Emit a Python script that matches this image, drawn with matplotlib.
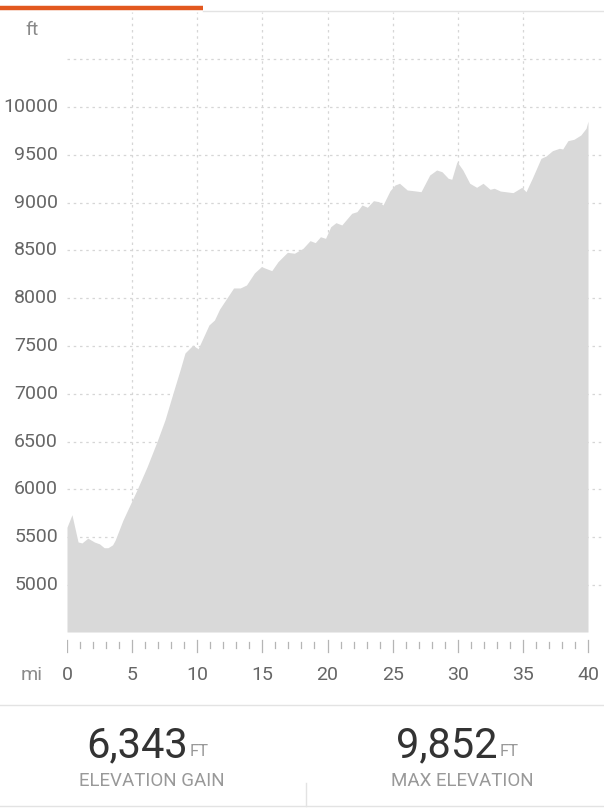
import matplotlib
matplotlib.use("Agg")
import matplotlib.pyplot as plt
from matplotlib.lines import Line2D

plt.rcParams['font.family'] = ['Roboto', 'DejaVu Sans']

# elevation profile (miles, feet)
miles = [0, 0.38, 0.85, 1.15, 1.6, 2.1, 2.5, 2.85, 3.15, 3.5, 3.7, 4.3,
         5.37, 6.14, 6.9, 7.52, 8.14, 8.68, 9.06, 9.67, 10.06, 10.9, 11.32,
         11.72, 12.79, 13.3, 13.78, 14.39, 14.92, 15.72, 16.2, 16.92, 17.46,
         18.12, 18.66, 19.06, 19.46, 19.85, 20.25, 20.65, 21.1, 21.86, 22.26,
         22.65, 23.06, 23.53, 23.94, 24.26, 24.8, 25.18, 25.53, 26.12, 26.64,
         27.18, 27.85, 28.38, 28.79, 29.27, 29.54, 29.94, 30.39, 30.92, 31.45,
         31.94, 32.48, 32.8, 33.27, 34.24, 34.92, 35.24, 35.72, 36.39, 36.78,
         37.27, 37.8, 38.06, 38.46, 38.92, 39.45, 39.85, 40.0]
elev = [5605, 5735, 5450, 5440, 5490, 5450, 5430, 5390, 5390, 5420, 5470, 5680,
        5994, 6234, 6496, 6726, 7008, 7249, 7427, 7510, 7469, 7720, 7772,
        7887, 8107, 8107, 8138, 8264, 8330, 8288, 8382, 8480, 8470,
        8522, 8602, 8581, 8643, 8626, 8748, 8790, 8766, 8888, 8905,
        8975, 8951, 9020, 9010, 8975, 9124, 9184, 9202, 9132, 9124,
        9114, 9289, 9341, 9323, 9254, 9244, 9428, 9341, 9202, 9160,
        9202, 9139, 9150, 9121, 9104, 9160, 9114, 9254, 9463, 9487,
        9543, 9568, 9561, 9648, 9662, 9707, 9777, 9852]

y_ticks = [5000, 5500, 6000, 6500, 7000, 7500, 8000, 8500, 9000, 9500, 10000]
y_grid = y_ticks + [10500]
x_labels = [0, 5, 10, 15, 20, 25, 30, 35, 40]
x_grid = [5, 10, 15, 20, 25, 30, 35]
gain = "6,343"
max_elev = "9,852"

W, H = 604, 809
fig = plt.figure(figsize=(W / 100, H / 100), dpi=100)

def fx(px):
    return px / W

def fy(py):
    return 1 - py / H

# plot area: x 0 -> px 67, 40 -> px 588 ; y 10000 -> px 107, 5000 -> px 585
px_per_mi = (588 - 67) / 40
px_per_ft = (585 - 107) / 5000
x_right = (604 - 67) / px_per_mi
y_bot = 5000 - (632 - 585) / px_per_ft
y_top = 10000 + (107 - 12) / px_per_ft

ax = fig.add_axes([fx(67), fy(632), fx(604 - 67), (632 - 12) / H])
ax.set_xlim(0, x_right)
ax.set_ylim(y_bot, y_top)
for s in ax.spines.values():
    s.set_visible(False)
ax.set_xticks([])
ax.set_yticks([])

for g in y_grid:
    ax.axhline(g, color='#d6d6d6', lw=0.9, ls=(0, (2, 3)), zorder=1)
for g in x_grid:
    ax.axvline(g, color='#d6d6d6', lw=0.9, ls=(0, (2, 3)), zorder=1)

ax.fill_between(miles, elev, y_bot, color='#d9d9d9', lw=0, zorder=2)

# y labels
for v in y_ticks:
    ax.text(-9 / px_per_mi, v, str(v), ha='right', va='center',
            fontsize=14, color='#666666', clip_on=False)
fig.text(fx(32), fy(30), "ft", ha='center', va='center', fontsize=14, color='#8a8a8a')

# x ticks below the plot
tick_ax = fig.add_axes([fx(67), fy(660), fx(604 - 67), 28 / H])
tick_ax.set_xlim(0, x_right)
tick_ax.set_ylim(0, 28)
tick_ax.axis('off')
for m in range(0, 41):
    top = 20 if m % 5 == 0 else 18
    bot = 8 if m % 5 == 0 else 12
    tick_ax.plot([m, m], [bot, top], color='#b5b5b5', lw=0.9)
for m in x_labels:
    tick_ax.text(m, -15, str(m), ha='center', va='center', fontsize=14,
                 color='#666666', clip_on=False)
fig.text(fx(32), fy(675), "mi", ha='center', va='center', fontsize=14, color='#8a8a8a')

# top bar
fig.add_artist(Line2D([fx(203), 1], [fy(11), fy(11)], color='#e3e3e3', lw=1))
fig.add_artist(Line2D([0, fx(203)], [fy(8), fy(8)], color='#e2581f', lw=3.2,
                      solid_capstyle='butt'))

# summary panel
fig.add_artist(Line2D([0, 1], [fy(705), fy(705)], color='#e3e3e3', lw=1))
fig.add_artist(Line2D([0, 1], [fy(806), fy(806)], color='#e3e3e3', lw=1))
fig.add_artist(Line2D([fx(306), fx(306)], [fy(783), fy(806)], color='#e3e3e3', lw=1))

for cx, num, lab in [(152, gain, "ELEVATION GAIN"), (462, max_elev, "MAX ELEVATION")]:
    fig.text(fx(cx + 36), fy(746), num, ha='right', va='center', fontsize=30, color='#333333')
    fig.text(fx(cx + 38), fy(751), "FT", ha='left', va='center', fontsize=12, color='#999999')
    fig.text(fx(cx), fy(781), lab, ha='center', va='center', fontsize=13.5, color='#999999')

fig.savefig("out.png", dpi=100, facecolor='white')
